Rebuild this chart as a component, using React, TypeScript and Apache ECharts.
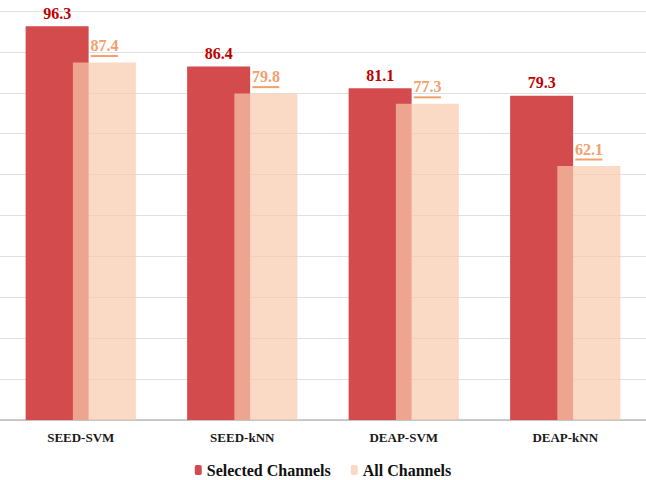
import React, { useEffect, useRef } from "react";
import * as echarts from "echarts";

const categories = ["SEED-SVM", "SEED-kNN", "DEAP-SVM", "DEAP-kNN"];
const selectedChannels = [96.3, 86.4, 81.1, 79.3];
const allChannels = [87.4, 79.8, 77.3, 62.1];
const seriesNames = ["Selected Channels", "All Channels"];

const FONT = "Times New Roman, Liberation Serif, DejaVu Serif, serif";

export default function App() {
  const ref = useRef<HTMLDivElement>(null);
  useEffect(() => {
    document.body.style.margin = "0";
    if (!ref.current) return;
    const chart = echarts.init(ref.current, undefined, { renderer: "svg" });
    chart.setOption({
      animation: false,
      textStyle: { fontFamily: FONT },
      grid: { left: 0, right: 0, top: 11, bottom: 60 },
      legend: {
        data: seriesNames,
        top: 457,
        left: "center",
        itemWidth: 7,
        itemHeight: 10,
        itemGap: 20,
        textStyle: { fontFamily: FONT, fontSize: 16, fontWeight: "bold", color: "#111" },
      },
      xAxis: {
        type: "category",
        data: categories,
        axisTick: { show: false },
        axisLine: { lineStyle: { color: "#bdbdbd", width: 1.5 } },
        axisLabel: { fontFamily: FONT, fontSize: 13, fontWeight: "bold", color: "#1a1a1a", margin: 11 },
      },
      yAxis: {
        type: "value",
        min: 0,
        max: 100,
        interval: 10,
        axisLabel: { show: false },
        axisLine: { show: false },
        axisTick: { show: false },
        splitLine: { lineStyle: { color: "#e0e0e0", width: 1 } },
      },
      series: [
        {
          name: seriesNames[0],
          type: "bar",
          data: selectedChannels,
          barWidth: 63,
          barGap: "-25%",
          itemStyle: { color: "#d44b4d" },
          label: {
            show: true,
            position: "top",
            distance: 5,
            fontFamily: FONT,
            fontSize: 16,
            fontWeight: "bold",
            color: "#c00000",
          },
        },
        {
          name: seriesNames[1],
          type: "bar",
          data: allChannels,
          barWidth: 63,
          itemStyle: { color: "rgba(248,203,172,0.71)" },
          label: {
            show: true,
            position: "top",
            distance: 5,
            formatter: "{v|{c}}\n{u|}",
            rich: {
              v: {
                fontFamily: FONT,
                fontSize: 16,
                fontWeight: "bold",
                color: "#f2a06c",
                lineHeight: 18,
                align: "center",
              },
              u: {
                width: 27,
                height: 2,
                lineHeight: 3,
                backgroundColor: "#f2a06c",
                align: "center",
              },
            },
          },
        },
      ],
    });
    return () => chart.dispose();
  }, []);
  return <div ref={ref} style={{ width: 646, height: 480 }} />;
}
